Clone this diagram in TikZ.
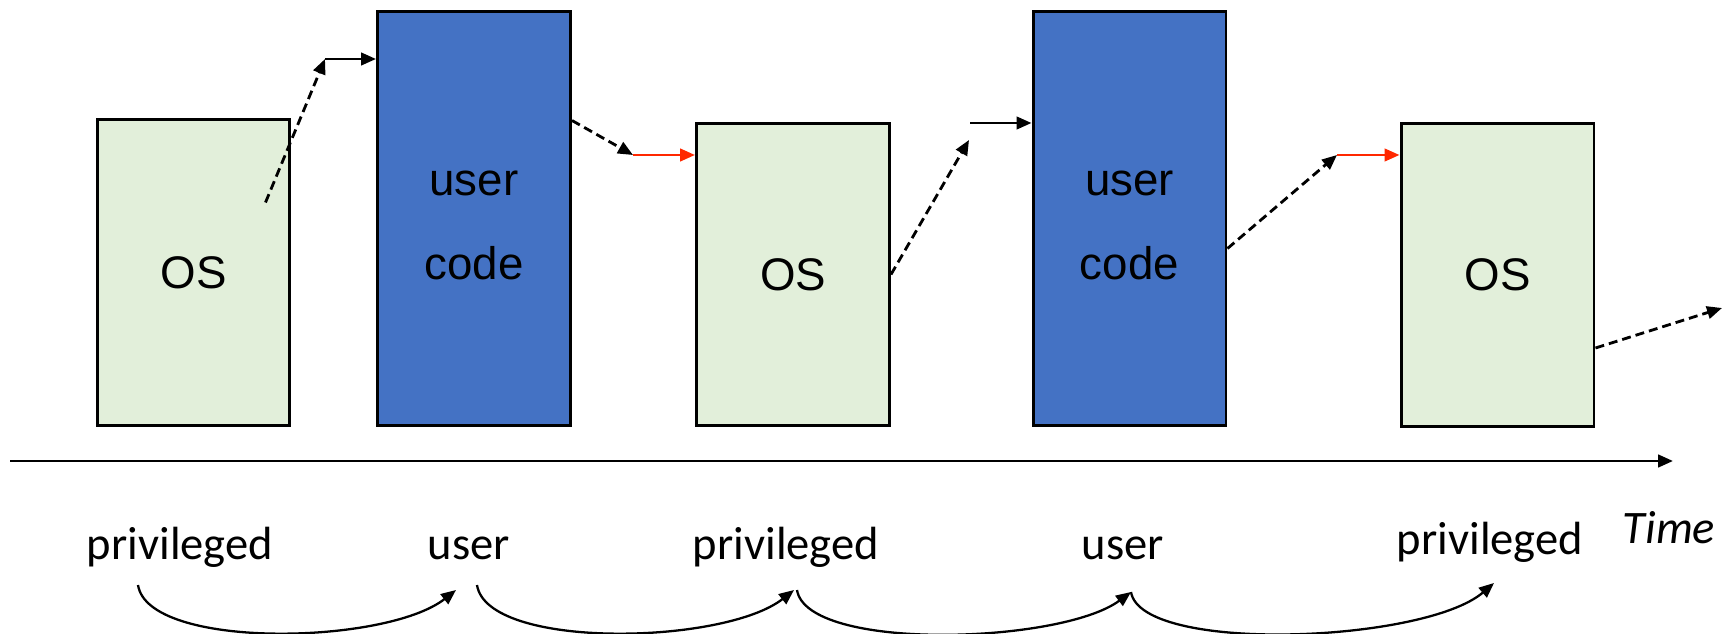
\documentclass[tikz,border=0pt]{standalone}
\usepackage{fontspec}
\setmainfont{Carlito}
\newfontfamily\boxfont{Liberation Sans}
\usetikzlibrary{arrows.meta}

\definecolor{osgreen}{RGB}{226,239,218}
\definecolor{userblue}{RGB}{68,114,196}
\definecolor{swred}{RGB}{255,40,0}

% push a line of box text down a little without changing its size
\newcommand\lowered[1]{\raisebox{-0.14cm}[\height][\depth]{#1}}

\begin{document}
\begin{tikzpicture}[x=0.02cm,y=-0.02cm,
    arr/.style={-{Triangle[length=0.3cm,width=0.25cm]},line width=1.6pt},
    dasharr/.style={arr,dash pattern=on 0.18cm off 0.1cm},
    osbox/.style={draw,line width=1.7pt,fill=osgreen,minimum width=3.86cm,inner sep=0pt,
        font=\boxfont\fontsize{26}{48}\selectfont},
    userbox/.style={osbox,fill=userblue,minimum height=8.3cm,align=center},
    lbl/.style={anchor=base,inner sep=0pt,font=\fontsize{26.5}{30}\selectfont},
    modearc/.style={arr,line width=1.3pt}]

    \useasboundingbox (0,0) rectangle (1730,634);

    % time line
    \coordinate (t0) at (10,461);
    \coordinate (t1) at (1673,461);
    \draw[arr,line width=1.7pt] (t0) -- (t1);

    % what runs on the cpu
    \node[osbox,minimum height=6.14cm] (os1) at (193.5,272.5) {OS};
    \node[userbox] (usr1) at (474,218.5) {\lowered{user}\\\lowered{code}};
    \node[osbox,minimum height=6.06cm] (os2) at (793,274.5) {OS};
    \node[userbox] (usr2) at (1129.5,218.5) {\lowered{user}\\\lowered{code}};
    \node[osbox,minimum height=6.08cm] (os3) at (1497.5,275) {OS};

    % switches between them
    \coordinate (k1) at (325,59);
    \coordinate (k2) at (633,155);
    \coordinate (k3) at (969,140);
    \coordinate (h3) at (970,123);
    \coordinate (k4) at (1337,155);
    \coordinate (k5) at (1722,308);

    \draw[dasharr] ([shift={(72,-70)}]os1.center) -- (k1);
    \draw[arr] (k1) -- (k1 -| usr1.west);
    \draw[dasharr] ([shift={(0,-98)}]usr1.east) -- (k2);
    \draw[arr,swred] (k2) -- (k2 -| os2.west);
    \draw[dasharr] (os2.east) -- (k3);
    \draw[arr] (h3) -- (h3 -| usr2.west);
    \draw[dasharr] ([shift={(0,30)}]usr2.east) -- (k4);
    \draw[arr,swred] (k4) -- (k4 -| os3.west);
    \draw[dasharr] ([shift={(0,73)}]os3.east) -- (k5);

    % cpu mode
    \node[lbl] (priv1) at (180,559) {privileged};
    \node[lbl] (usrl1) at (469,559) {user};
    \node[lbl] (priv2) at (786,559) {privileged};
    \node[lbl] (usrl2) at (1123,559) {user};
    \node[lbl] (priv3) at (1490,554) {privileged};
    \node[lbl] (time) at (1669,543) {\itshape Time};

    \draw[modearc] ([shift={(-42,26)}]priv1.base) .. controls +(10,65) and +(-70,55) .. ([shift={(-13,31)}]usrl1.base);
    \draw[modearc] ([shift={(8,26)}]usrl1.base) .. controls +(10,65) and +(-70,55) .. ([shift={(8,31)}]priv2.base);
    \draw[modearc] ([shift={(11,31)}]priv2.base) .. controls +(10,62) and +(-70,52) .. ([shift={(8,33)}]usrl2.base);
    \draw[modearc] ([shift={(8,33)}]usrl2.base) .. controls +(10,62) and +(-70,60) .. ([shift={(4,29)}]priv3.base);
\end{tikzpicture}
\end{document}
